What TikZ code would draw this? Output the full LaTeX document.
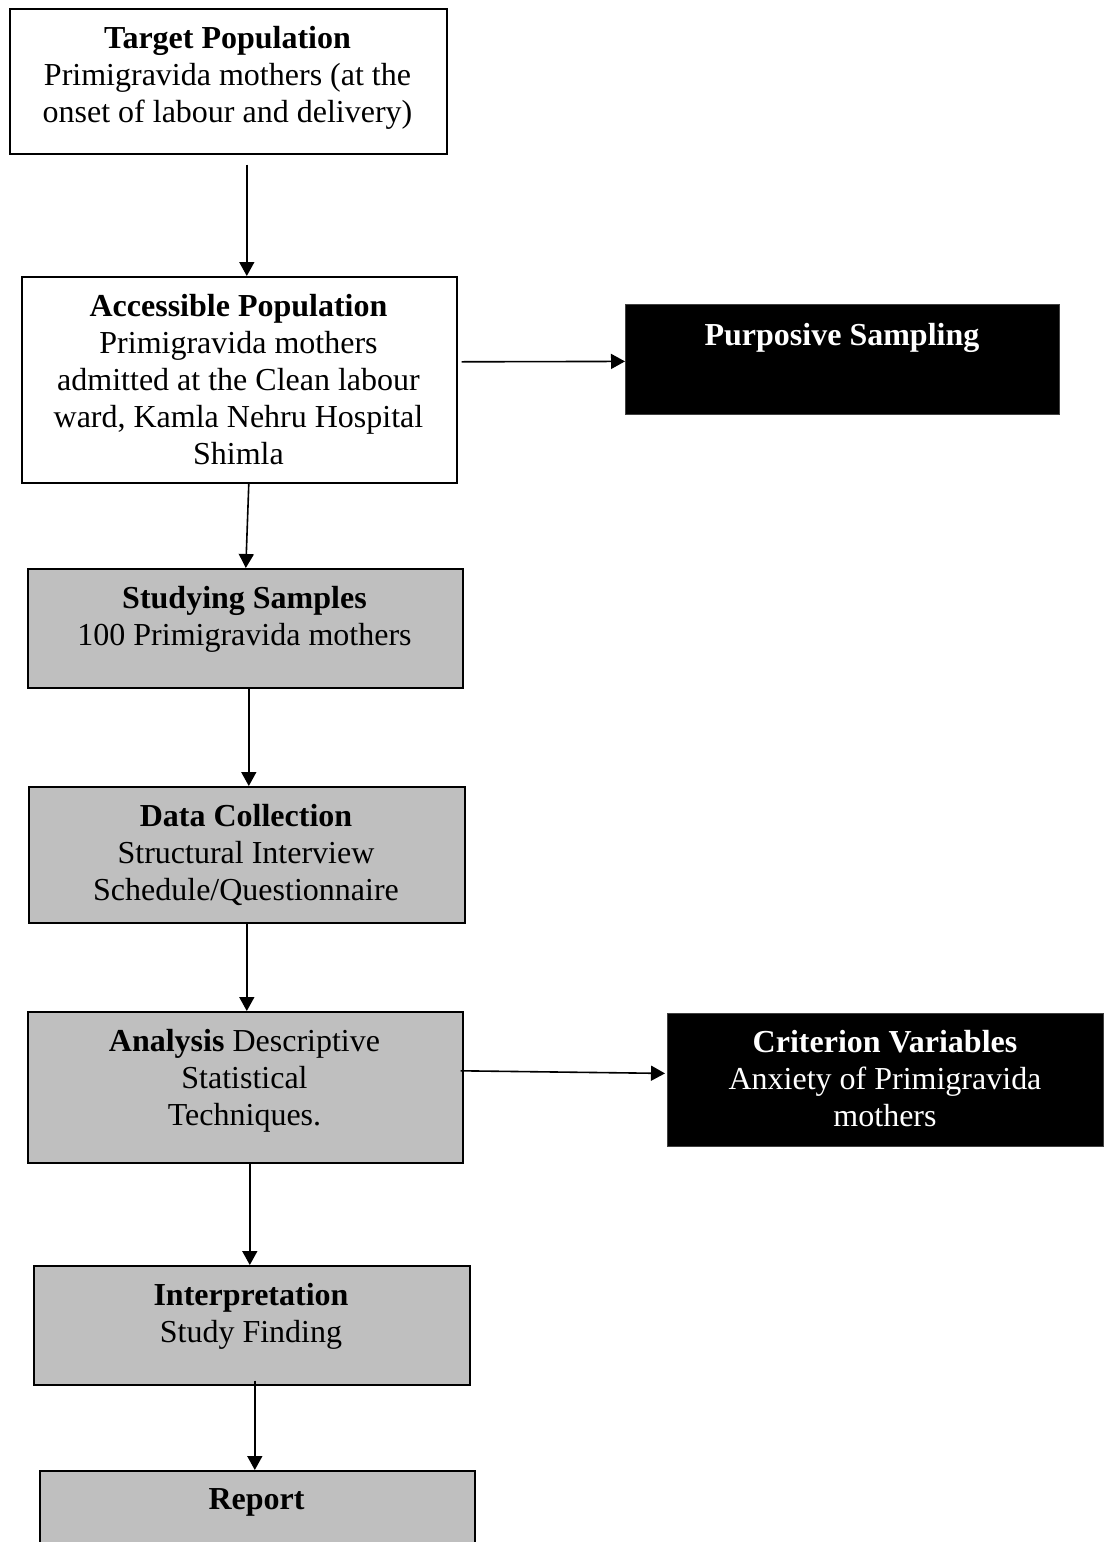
\documentclass[tikz,border=0pt]{standalone}
\usepackage{fontspec}
\setmainfont{Liberation Serif}
\usetikzlibrary{arrows.meta}
\definecolor{boxgray}{RGB}{191,191,191}
\tikzset{
  x=1pt, y=-1pt,
  flowbox/.style={draw=black, line width=1.6pt, rectangle, inner sep=0pt, anchor=north west},
  whitebox/.style={flowbox, fill=white},
  graybox/.style={flowbox, fill=boxgray},
  blackbox/.style={flowbox, fill=black, draw=black!75, line width=0.8pt},
  txt/.style={inner sep=0pt, anchor=north, align=center, font=\fontsize{32}{37}\selectfont},
  wtxt/.style={txt, text=white},
  arr/.style={line width=1.6pt, -{Triangle[length=14pt,width=15pt]}}
}
\begin{document}
\begin{tikzpicture}
\useasboundingbox (0,0) rectangle (1106,1542);
\clip (0,0) rectangle (1106,1542);
\fill[white] (0,0) rectangle (1106,1542);
% boxes
\node[whitebox, minimum width=437pt, minimum height=145pt] (tp) at (9,8) {};
\node[whitebox, minimum width=435pt, minimum height=206pt] (ap) at (21,276) {};
\node[blackbox, minimum width=434pt, minimum height=110pt] (ps) at (625,304) {};
\node[graybox, minimum width=435pt, minimum height=119pt] (ss) at (27,568) {};
\node[graybox, minimum width=436pt, minimum height=136pt] (dc) at (28,786) {};
\node[graybox, minimum width=435pt, minimum height=151pt] (an) at (27,1011) {};
\node[blackbox, minimum width=436pt, minimum height=133pt] (cv) at (667,1013) {};
\node[graybox, minimum width=436pt, minimum height=119pt] (in) at (33,1265) {};
\node[graybox, minimum width=435pt, minimum height=110pt] (rp) at (39,1470) {};
% texts
\node[txt] (tp-t) at (227.5,22) {\strut\textbf{Target Population}\\Primigravida mothers (at the\\onset of labour and delivery)};
\node[txt] (ap-t) at (238.5,290) {\strut\textbf{Accessible Population}\\Primigravida mothers\\admitted at the Clean labour\\ward, Kamla Nehru Hospital\\Shimla};
\node[wtxt] (ps-t) at (842,319) {\strut\textbf{Purposive Sampling}};
\node[txt] (ss-t) at (244.5,582) {\strut\textbf{Studying Samples}\\100 Primigravida mothers};
\node[txt] (dc-t) at (246,800) {\strut\textbf{Data Collection}\\Structural Interview\\Schedule/Questionnaire};
\node[txt] (an-t) at (244.5,1025) {\strut\textbf{Analysis} Descriptive\\Statistical\\Techniques.};
\node[wtxt] (cv-t) at (885,1026) {\strut\textbf{Criterion Variables}\\Anxiety of Primigravida\\mothers};
\node[txt] (in-t) at (251,1279) {\strut\textbf{Interpretation}\\Study Finding};
\node[txt] (rp-t) at (256.5,1483) {\strut\textbf{Report}};
% connectors
\draw[arr] ([xshift=18.5pt,yshift=-10pt]tp.south) -- ([xshift=7.5pt]ap.north);
\draw[arr] ([xshift=4pt,yshift=18pt]ap.east) -- ([yshift=-2pt]ps.west);
\draw[arr] ([xshift=9.5pt]ap.south) -- ([xshift=0.5pt]ss.north);
\draw[arr] ([xshift=3.5pt]ss.south) -- ([xshift=2pt]dc.north);
\draw[arr] ([xshift=0pt]dc.south) -- ([xshift=1.5pt]an.north);
\draw[arr] ([xshift=-3pt,yshift=16.5pt]an.east) -- ([xshift=-2pt,yshift=6.5pt]cv.west);
\draw[arr] ([xshift=4.5pt]an.south) -- ([xshift=-2pt]in.north);
\draw[arr] ([xshift=3pt,yshift=5pt]in.south) -- ([xshift=-2.5pt]rp.north);
\end{tikzpicture}
\end{document}
